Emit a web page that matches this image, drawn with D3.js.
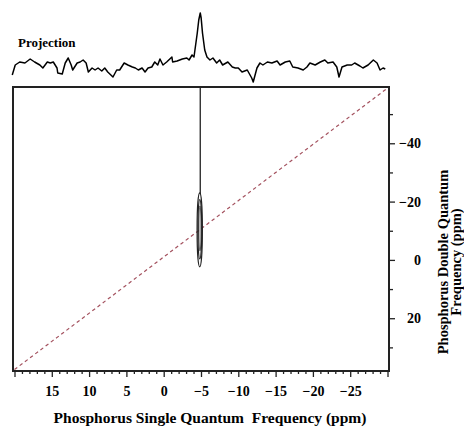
<!DOCTYPE html>
<html>
<head>
    <meta charset="utf-8"/>
    <script type="text/javascript" src="https://d3js.org/d3.v7.min.js"></script>
    <style>
        body { margin: 0; background: white; }
        text { font-family: "Liberation Serif", "Times New Roman", serif; font-weight: bold; fill: black; }
    </style>
</head>
<body>
<svg id="chart" width="464" height="429"></svg>
<script>
    // axis ranges (ppm)
    let sqDomain = [20.2, -30.2];
    let dqDomain = [-59.3, 38.1];
    let sqTicks = [15, 10, 5, 0, -5, -10, -15, -20, -25];
    let dqTicks = [-40, -20, 0, 20];
    let dqMinor = [-50, -30, -10, 10, 30];

    // projection trace
    let projPpm = [20.3, 19.9, 19.3, 18.6, 17.9, 17.3, 16.6, 16.2, 15.6, 15.2, 14.8, 14.3, 14.2, 13.6, 13.2, 12.8,
        12.4, 12.2, 11.6, 11.2, 10.8, 10.4, 10.1, 9.6, 9.2, 8.8, 8.3, 7.9, 7.5, 6.8, 6.3, 5.9, 5.3, 4.8, 4.2, 3.8,
        3.4, 2.9, 2.5, 2.1, 1.6, 1.2, 0.8, 0.5, 0.1, -0.4, -1.1, -1.2, -1.8, -2.5, -3.1, -3.4, -3.8, -4.06, -4.5,
        -4.7, -4.9, -5.02, -5.2, -5.5, -5.8, -6.2, -6.6, -7.1, -7.5, -7.9, -8.6, -9.2, -9.6, -10.0, -10.5, -11.2,
        -11.8, -12.0, -12.5, -12.9, -13.3, -13.9, -14.5, -15.2, -15.6, -16.3, -16.9, -17.3, -18.0, -18.7, -19.2,
        -19.6, -20.3, -21.0, -21.6, -22.0, -22.7, -23.2, -23.5, -23.9, -24.6, -25.2, -25.6, -26.3, -26.7, -27.4,
        -28.1, -28.6, -29.0, -29.4, -29.7];
    let projInt = [0, 10, 13, 12, 16, 13, 10, 7, 13, 12, 13, 7, 2, 1, 12, 17,
        10, 5, 12, 13, 15, 12, 3, 7, 5, 7, 4, 7, 3, -2, 5, 5, 12, 10, 8, 7,
        5, 7, 3, 7, 8, 13, 10, 16, 10, 13, 18, 13, 14, 16, 17, 15, 20, 18, 42,
        55, 62, 57, 42, 25, 18, 15, 17, 12, 15, 10, 13, 8, 7, 7, 3, 5,
        -3, -7, 7, 12, 10, 13, 12, 14, 10, 13, 14, 8, 7, 5, 8,
        12, 10, 13, 15, 12, 13, 8, -2, 8, 10, 10, 12, 9, 7, 10,
        15, 12, 5, 7, 6];

    // contour levels (centre and half widths, ppm)
    let contourSq = [-4.83, -4.84, -4.86];
    let contourDq = [-10.3, -10.5, -10.8];
    let contourHalfSq = [0.36, 0.26, 0.16];
    let contourHalfDq = [12.7, 10.2, 7.6];

    // streak above the peak
    let streakSq = [-4.9, -4.9];
    let streakDq = [-59.3, -22.6];

    // dashed diagonal (DQ = 2 x SQ)
    let diagSq = [20.0, -30.2];
    let diagDq = [37.6, -59.3];

    let svg = d3.select("#chart");
    let plotL = 13, plotR = 389, plotT = 87, plotB = 371;

    let x = d3.scaleLinear().domain(sqDomain).range([plotL, plotR]);
    let y = d3.scaleLinear().domain(dqDomain).range([plotT, plotB]);
    let py = d3.scaleLinear().domain([0, 62]).range([75, 13]);

    // projection
    let proj = projPpm.map((p, i) => [p, projInt[i]]);
    svg.append("path")
        .datum(proj)
        .attr("d", d3.line().x(d => x(d[0])).y(d => py(d[1])))
        .attr("fill", "none")
        .attr("stroke", "black")
        .attr("stroke-width", 1.5)
        .attr("stroke-linejoin", "round");

    svg.append("text")
        .text("Projection")
        .attr("x", 18)
        .attr("y", 47)
        .style("font-size", "13px");

    // diagonal
    svg.append("line")
        .attr("x1", x(diagSq[0])).attr("y1", y(diagDq[0]))
        .attr("x2", x(diagSq[1])).attr("y2", y(diagDq[1]))
        .attr("stroke", "#a4525f")
        .attr("stroke-width", 1.2)
        .attr("stroke-dasharray", "3.5,3");

    // streak
    svg.append("line")
        .attr("x1", x(streakSq[0])).attr("y1", y(streakDq[0]))
        .attr("x2", x(streakSq[1])).attr("y2", y(streakDq[1]))
        .attr("stroke", "#222")
        .attr("stroke-width", 1.3);

    // contours
    for (let i = 0; i < contourSq.length; i++) {
        svg.append("ellipse")
            .attr("cx", x(contourSq[i]))
            .attr("cy", y(contourDq[i]))
            .attr("rx", Math.abs(x(contourSq[i] + contourHalfSq[i]) - x(contourSq[i])))
            .attr("ry", Math.abs(y(contourDq[i] + contourHalfDq[i]) - y(contourDq[i])))
            .attr("fill", "none")
            .attr("stroke", "#222")
            .attr("stroke-width", 1.1);
    }

    // frame
    svg.append("rect")
        .attr("x", plotL).attr("y", plotT)
        .attr("width", plotR - plotL).attr("height", plotB - plotT)
        .attr("fill", "none")
        .attr("stroke", "#222")
        .attr("stroke-width", 2);

    // bottom axis: minor every 1 ppm
    let xMinor = d3.range(20, -31, -1).filter(v => v % 5 != 0);
    let xAxisMinor = svg.append("g")
        .attr("transform", "translate(0," + plotB + ")")
        .call(d3.axisBottom(x).tickValues(xMinor).tickSize(3).tickFormat(""));
    let xAxis = svg.append("g")
        .attr("transform", "translate(0," + plotB + ")")
        .call(d3.axisBottom(x).tickValues(sqTicks.concat([20, -30])).tickSize(6).tickPadding(9)
            .tickFormat(d => (d == 20 || d == -30) ? "" : d3.format("")(d)));

    // right axis
    let yAxisMinor = svg.append("g")
        .attr("transform", "translate(" + plotR + ",0)")
        .call(d3.axisRight(y).tickValues(dqMinor).tickSize(4).tickFormat(""));
    let yAxis = svg.append("g")
        .attr("transform", "translate(" + plotR + ",0)")
        .call(d3.axisRight(y).tickValues(dqTicks).tickSize(6));
    yAxis.selectAll("text")
        .attr("x", 32)
        .attr("text-anchor", "end");

    [xAxisMinor, xAxis, yAxisMinor, yAxis].forEach(g => {
        g.attr("font-family", null).attr("font-size", null);
        g.select(".domain").remove();
        g.selectAll("line").attr("stroke", "#222").attr("stroke-width", 1.3);
        g.selectAll("text")
            .attr("fill", "black")
            .style("font-family", "Liberation Serif")
            .style("font-weight", "bold")
            .style("font-size", "14px");
    });

    // titles
    svg.append("text")
        .text("Phosphorus Single Quantum  Frequency (ppm)")
        .attr("x", 210)
        .attr("y", 423)
        .attr("text-anchor", "middle")
        .style("white-space", "pre")
        .style("font-size", "15.5px");

    let yTitle = svg.append("text")
        .attr("transform", "translate(447.5,262) rotate(-90)")
        .attr("text-anchor", "middle")
        .style("font-size", "14.5px");
    yTitle.append("tspan").attr("x", 0).attr("dy", 0).text("Phosphorus Double Quantum");
    yTitle.append("tspan").attr("x", 0).attr("dy", 13).text("Frequency (ppm)");
</script>
</body>
</html>
